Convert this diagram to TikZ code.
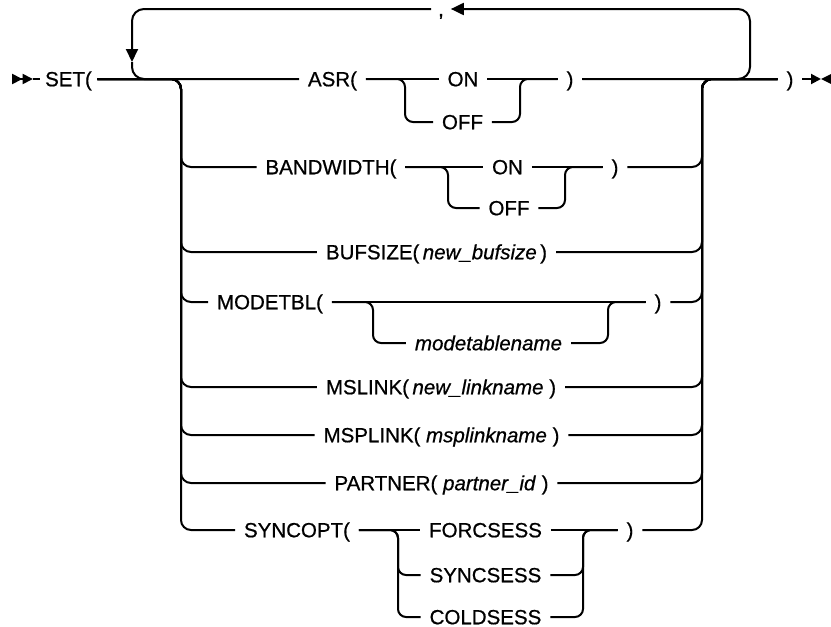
\documentclass[tikz,border=0pt]{standalone}
\usepackage{fontspec}
\setmainfont{Liberation Sans}
\newfontfamily\diagfont{Liberation Sans}[UprightFeatures={FakeBold=0.7},ItalicFeatures={FakeBold=0.7}]
\usetikzlibrary{arrows.meta}

\begin{document}
\begin{tikzpicture}[x=1pt,y=-1pt,line width=2pt,
  kw/.style={inner xsep=8pt,inner ysep=0pt,text height=14.5pt,text depth=0pt,font=\diagfont\fontsize{20.5}{24}\selectfont},
  var/.style={kw,font=\diagfont\fontsize{20.5}{24}\selectfont\itshape},
  stackbend/.style={rounded corners=10pt},
  pickbend/.style={rounded corners=8pt},
  ringbend/.style={rounded corners=12pt},
  headed/.style={-{Triangle[length=13pt,width=12pt]}}]
\useasboundingbox (0,0) rectangle (831,627);
% keywords and values
\node[kw,inner xsep=4.5pt] (set) at (68.5,79) {SET(};
\node[kw] (asr) at (332.5,79) {ASR(};
\node[kw] (asron) at (463,79) {ON};
\node[kw] (asroff) at (462.5,122) {OFF};
\node[kw] (asrclose) at (570,79) {)};
\node[kw] (bw) at (331,167) {BANDWIDTH(};
\node[kw] (bwon) at (507.5,167) {ON};
\node[kw] (bwoff) at (509,208) {OFF};
\node[kw] (bwclose) at (615,167) {)};
\node[kw] (buf) at (436.5,252) {BUFSIZE(\,\textit{new\_bufsize}\,)};
\node[kw] (mod) at (270,302) {MODETBL(};
\node[var] (mtn) at (488.5,343) {modetablename};
\node[kw] (modclose) at (658,302) {)};
\node[kw] (msl) at (441,387) {MSLINK(\,\textit{new\_linkname} )};
\node[kw] (msp) at (441.5,435) {MSPLINK( \textit{msplinkname} )};
\node[kw] (par) at (441.5,483) {PARTNER( \textit{partner\_id} )};
\node[kw] (syn) at (297,530) {SYNCOPT(};
\node[kw] (fs) at (485.5,530) {FORCSESS};
\node[kw] (ss) at (485.5,575) {SYNCSESS};
\node[kw] (cs) at (485.5,617) {COLDSESS};
\node[kw] (synclose) at (630,530) {)};
\node[kw] (close) at (790,79) {)};
\node[kw,inner xsep=6pt] (comma) at (441,9) {,};
\coordinate (begin) at (12,79);
\coordinate (pre) at (33,79);
\coordinate (finish) at (821,79);
\coordinate (looptip) at (132,62);
% start and end marks
\draw[-{Triangle[length=10.5pt,width=10pt]Triangle[length=10.5pt,width=10pt]}] (begin) -- (pre);
\draw (pre) -- (set.west);
\draw[-{Triangle[length=10pt,width=10pt]}] (close.east) -- (finish);
\fill (831,74) -- (finish) -- (831,84) -- cycle;
% main line
\draw (set.east) -- (asr.west);
\draw (asr.east) -- (asron.west);
\draw (asron.east) -- (asrclose.west);
\draw (asrclose.east) -- (close.west);
% repeat loop
\draw[ringbend,headed] (asrclose.east) -- (750,79) -- (750,9) -- (comma.east);
\draw[ringbend,headed] (comma.west) -- (132,9) -- (looptip);
\draw[ringbend] (looptip) -- (132,79) -- (asr.west);
% the stack of options
\foreach \n/\y in {bw/167, buf/252, mod/302, msl/387, msp/435, par/483, syn/530}
  \draw[stackbend] (set.east) -- (181,79) -- (181,\y) -- (\n.west);
\foreach \n/\y in {bwclose/167, buf/252, modclose/302, msl/387, msp/435, par/483, synclose/530}
  \draw[stackbend] (\n.east) -- (702,\y) -- (702,79) -- (close.west);
% ASR
\draw[pickbend] (asr.east) -- (405,79) -- (405,122) -- (asroff.west);
\draw[pickbend] (asroff.east) -- (520,122) -- (520,79) -- (asrclose.west);
% BANDWIDTH
\draw (bw.east) -- (bwon.west);
\draw (bwon.east) -- (bwclose.west);
\draw[pickbend] (bw.east) -- (448,167) -- (448,208) -- (bwoff.west);
\draw[pickbend] (bwoff.east) -- (565,208) -- (565,167) -- (bwclose.west);
% MODETBL
\draw (mod.east) -- (modclose.west);
\draw[pickbend] (mod.east) -- (373,302) -- (373,343) -- (mtn.west);
\draw[pickbend] (mtn.east) -- (608,343) -- (608,302) -- (modclose.west);
% SYNCOPT
\draw (syn.east) -- (fs.west);
\draw (fs.east) -- (synclose.west);
\foreach \n/\y in {ss/575, cs/617} {
  \draw[pickbend] (syn.east) -- (398,530) -- (398,\y) -- (\n.west);
  \draw[pickbend] (\n.east) -- (583,\y) -- (583,530) -- (synclose.west);
}
\end{tikzpicture}
\end{document}
